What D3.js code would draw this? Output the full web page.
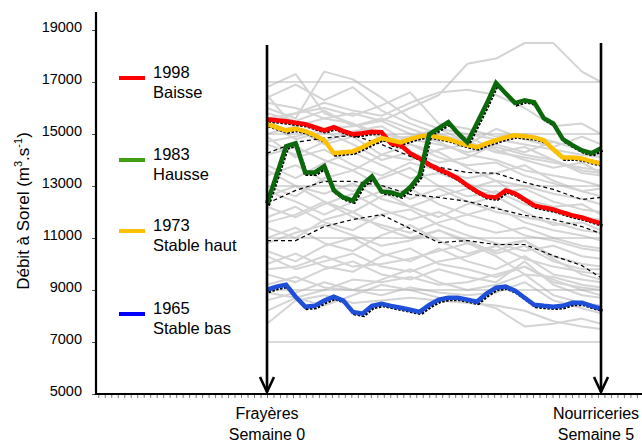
<!DOCTYPE html>
<html><head><meta charset="utf-8">
<script src="https://cdn.jsdelivr.net/npm/d3@7"></script>
<style>html,body{margin:0;padding:0;background:#fff;} svg{display:block;font-family:"Liberation Sans",Arial,Helvetica,sans-serif;}</style>
</head><body><svg id="c" width="642" height="443"></svg>
<script>
// ---------- DATA ----------
const days = d3.range(0, 36);                       // daily, week 0 -> week 5
const sampleDays = [0,3,6,9,12,15,18,21,24,27,30,33,35];
const yTicks = [5000,7000,9000,11000,13000,15000,17000,19000];
const gridValues = [7000,9000,11000,13000,15000,17000];
const minorTickIdx = d3.range(-26, 58);

const red1998 = [15570,15530,15490,15430,15380,15260,15140,15260,15110,14990,15030,15090,15070,14640,14570,14260,14060,13830,13640,13490,13290,13020,12790,12600,12560,12830,12710,12480,12250,12170,12100,11980,11870,11790,11670,11560];
const green1983 = [12330,13410,14530,14640,13520,13520,13760,12830,12560,12440,13060,13370,12790,12750,12640,12950,13410,14990,15220,15450,15030,14680,15410,16150,16960,16570,16190,16300,16220,15610,15410,14800,14570,14370,14260,14450];
const orange1973 = [15380,15260,15140,15200,15110,14950,14760,14260,14300,14330,14490,14680,14840,14760,14680,14800,14910,14950,14870,14800,14680,14570,14490,14640,14760,14870,14950,14910,14870,14760,14410,14100,14100,14060,13950,13870];
const blue1965 = [9010,9130,9200,8740,8360,8390,8590,8740,8590,8160,8090,8390,8470,8390,8320,8240,8160,8430,8630,8700,8700,8630,8550,8860,9090,9130,8970,8700,8430,8390,8360,8390,8510,8510,8390,8280];

const dashUpper = [14260,14680,14840,14950,14600,14140,13720,13520,13490,13140,12870,12480,12560];
const dashMid   = [12330,12830,13180,13180,13020,12680,12560,12410,12140,11870,11710,11440,11170];
const dashLow   = [10900,10900,11440,11710,11900,11360,10820,10900,10750,10750,10320,9940,9470];

const grayYears = [
 [14700,14900,15200,15300,15500,16000,16500,17700,17900,18500,18500,17400,17000],
 [15600,15800,16200,15900,15700,16200,16600,16700,16500,16000,15300,15400,15000],
 [16800,17300,15800,15400,15000,14800,14600,14300,14500,14200,14000,13600,13500],
 [16000,15600,17400,17100,16400,15600,15200,15000,14800,14600,14400,14200,14100],
 [15300,15800,16000,15700,16100,16600,15400,15200,14900,15000,14700,14400,14200],
 [16200,16000,15600,15800,15500,15000,14700,14200,14000,13600,13400,13200,13000],
 [15800,15500,15900,15300,15600,15200,14800,14900,14400,14000,13700,13900,13500],
 [15000,15300,15600,15400,14800,14900,15200,14700,14300,14500,14000,13500,13400],
 [14600,14200,14700,15100,15300,14600,14100,13800,13900,13400,13100,12800,12900],
 [14200,14500,14000,13600,14200,14600,14300,13700,13200,13000,12700,12500,12300],
 [13800,13300,13900,14300,13800,13300,13500,13100,12700,12900,12400,12100,12000],
 [13400,13800,13200,12800,13300,13700,13000,12600,12800,12300,12000,11800,11700],
 [13000,12600,13300,13600,13000,12500,12900,12400,12000,11800,11600,11300,11200],
 [12600,13000,12400,12000,12600,12900,12300,11900,12200,11600,11300,11100,10900],
 [12200,11800,12300,12700,12100,11700,12000,11500,11200,11400,11000,10700,10600],
 [11800,12200,11600,11300,11900,12100,11500,11100,10800,10500,10700,10300,10200],
 [11400,11000,11700,12000,11400,11000,11300,10800,10500,10900,10300,10000,9900],
 [11000,11400,10800,10500,11100,11500,10900,10400,10700,10200,9900,9700,9600],
 [10500,10100,10700,11000,10400,10100,10600,10100,9800,10300,9600,9400,9300],
 [10000,10400,9900,9700,10300,10600,10000,9800,9500,9900,9300,9100,9000],
 [9600,9300,9800,10100,9600,9400,9800,9500,9300,10100,9200,8800,8700],
 [9200,9500,9100,9000,9400,9800,9300,9000,9200,9600,8800,8500,8400],
 [8600,8900,9300,9000,8800,9100,8900,8800,8900,9300,8600,8300,8100],
 [7700,8600,8800,8500,8600,8700,8600,8500,8400,8200,7800,7600,7500],
 [8200,8700,8400,8800,9200,9000,8700,8600,8300,7600,7700,7900,7700],
 [14900,14100,14400,13800,13400,13900,13600,13300,13500,13800,13200,12800,12600],
 [16500,15200,14600,14900,14200,14000,14400,14600,15200,14800,14500,14900,14600],
 [12800,12400,11900,12400,12800,12200,11800,12300,12600,12000,11500,11600,11300],
 [10800,11200,11500,11100,10700,10900,11300,10900,10400,10700,10100,9800,9800],
 [13600,13000,12700,13100,12500,12200,12600,12900,13200,12500,12200,12300,11900],
 [15400,14800,15100,14600,14000,14300,13900,14100,14600,14300,14700,14400,14100],
 [11600,11900,12400,11800,11500,11200,11600,11900,11600,11100,10900,10600,10500],
 [16400,16900,16300,16800,15900,15400,15000,14700,14300,14100,13900,13700,13600],
 [9800,9900,10300,9900,10000,10200,10500,10800,10300,9600,9500,9200,9100],
 [10300,9800,10100,10400,9900,9700,10100,10300,10700,10900,10200,9600,9400],
 [8900,8700,9000,9400,9300,9500,9200,9300,9600,9900,9400,9000,8800]
];

const legendYears  = ["1998","1983","1973","1965"];
const legendNames  = ["Baisse","Hausse","Stable haut","Stable bas"];
const legendColors = ["#ff0000","#3c9f14","#ffc000","#0000ff"];
const lineColors   = ["#ff0000","#0b680b","#ffc000","#1f4fd8"];
const xLabels = [["Frayères","Semaine 0"],["Nourriceries","Semaine 5"]];

// ---------- LAYOUT ----------
const svg = d3.select("#c");
const x = d3.scaleLinear().domain([0,35]).range([267,601]);
const y = d3.scaleLinear().domain([5000,19000]).range([394,30]);
const axisX0 = 96, axisX1 = 642, axisTop = 12;
const legendLineY = [78,160,231,314];

const lineDaily = d3.line().x((d,i)=>x(days[i])).y(d=>y(d));
const lineSample = d3.line().x((d,i)=>x(sampleDays[i])).y(d=>y(d));

// gray years
svg.append("g").selectAll("path").data(grayYears).join("path")
  .attr("d", lineSample).attr("fill","none")
  .attr("stroke","#d4d4d4").attr("stroke-width",2).attr("stroke-linejoin","round");

// gridlines
svg.append("g").selectAll("line").data(gridValues).join("line")
  .attr("x1", x(0)).attr("x2", x(35))
  .attr("y1", d=>y(d)).attr("y2", d=>y(d))
  .attr("stroke","#b4b4b4").attr("stroke-width",1);

// dashed statistic lines
svg.append("g").selectAll("path").data([dashUpper,dashMid,dashLow]).join("path")
  .attr("d", lineSample).attr("fill","none")
  .attr("stroke","#000").attr("stroke-width",1.2).attr("stroke-dasharray","4,3");

// highlighted years
const series = [red1998, green1983, orange1973, blue1965];
const drawOrder = [3,0,2,1];
drawOrder.forEach(k=>{
  svg.append("path").attr("d", lineDaily(series[k]))
    .attr("transform","translate(1.5,2)")
    .attr("fill","none").attr("stroke","#000").attr("stroke-width",3)
    .attr("stroke-dasharray","2.5,1.5");
});
drawOrder.forEach(k=>{
  svg.append("path").attr("d", lineDaily(series[k]))
    .attr("fill","none").attr("stroke",lineColors[k]).attr("stroke-width",4.5)
    .attr("stroke-linejoin","miter").attr("stroke-linecap","butt");
});

// y axis
const gy = svg.append("g").attr("transform",`translate(${axisX0},0)`)
  .call(d3.axisLeft(y).tickValues(yTicks).tickSize(4).tickSizeOuter(0).tickPadding(10).tickFormat(d3.format("d")));
gy.select(".domain").remove();
gy.selectAll(".tick line").attr("stroke","#555");
gy.selectAll(".tick text").attr("font-size","14.5px").attr("dy","0.1em")
  .attr("font-family","Liberation Sans, Arial, sans-serif").attr("fill","#000");
svg.append("line").attr("x1",axisX0).attr("x2",axisX0).attr("y1",axisTop).attr("y2",y(5000)+1)
  .attr("stroke","#000").attr("stroke-width",2.2);

// x axis
const gx = svg.append("g").attr("transform",`translate(0,${y(5000)})`)
  .call(d3.axisBottom(x).tickValues(minorTickIdx.map(i=>i*0.68)).tickSize(4).tickSizeOuter(0).tickFormat(""));
gx.select(".domain").remove();
gx.selectAll(".tick line").attr("stroke","#777");
svg.append("line").attr("x1",axisX0-1).attr("x2",axisX1).attr("y1",y(5000)).attr("y2",y(5000))
  .attr("stroke","#000").attr("stroke-width",2.2);

// arrows
const arrowTops = [45,43];
[0,35].forEach((d,i)=>{
  const ax = x(d), bot = y(5000)-2;
  svg.append("line").attr("x1",ax).attr("x2",ax).attr("y1",arrowTops[i]).attr("y2",bot)
    .attr("stroke","#000").attr("stroke-width",2.6);
  svg.append("path").attr("d",`M${ax-7},${bot-15}L${ax},${bot}L${ax+7},${bot-15}`)
    .attr("fill","none").attr("stroke","#000").attr("stroke-width",2.6);
});

// x labels
const xLabelCenters = [x(0), x(35)-5];
xLabels.forEach((lab,i)=>{
  const t = svg.append("text").attr("text-anchor","middle").attr("font-size","16px").attr("fill","#000");
  t.append("tspan").attr("x",xLabelCenters[i]).attr("y",419).text(lab[0]);
  t.append("tspan").attr("x",xLabelCenters[i]).attr("y",440).text(lab[1]);
});

// y title
const yt = svg.append("text").attr("transform","translate(29,211) rotate(-90)")
  .attr("text-anchor","middle").attr("font-size","17px").attr("fill","#000");
yt.append("tspan").text("Débit à Sorel (m");
yt.append("tspan").attr("font-size","11px").attr("dy","-7").text("3");
yt.append("tspan").attr("dy","7").text(".s");
yt.append("tspan").attr("font-size","11px").attr("dy","-7").text("-1");
yt.append("tspan").attr("dy","7").text(")");

// legend
legendYears.forEach((yr,i)=>{
  const ly = legendLineY[i];
  svg.append("line").attr("x1",119).attr("x2",145).attr("y1",ly).attr("y2",ly)
    .attr("stroke",legendColors[i]).attr("stroke-width",4);
  svg.append("text").attr("x",153).attr("y",ly).attr("font-size","16.5px").attr("fill","#000").text(yr);
  svg.append("text").attr("x",153).attr("y",ly+20).attr("font-size","16.5px").attr("fill","#000").text(legendNames[i]);
});
</script></body></html>
